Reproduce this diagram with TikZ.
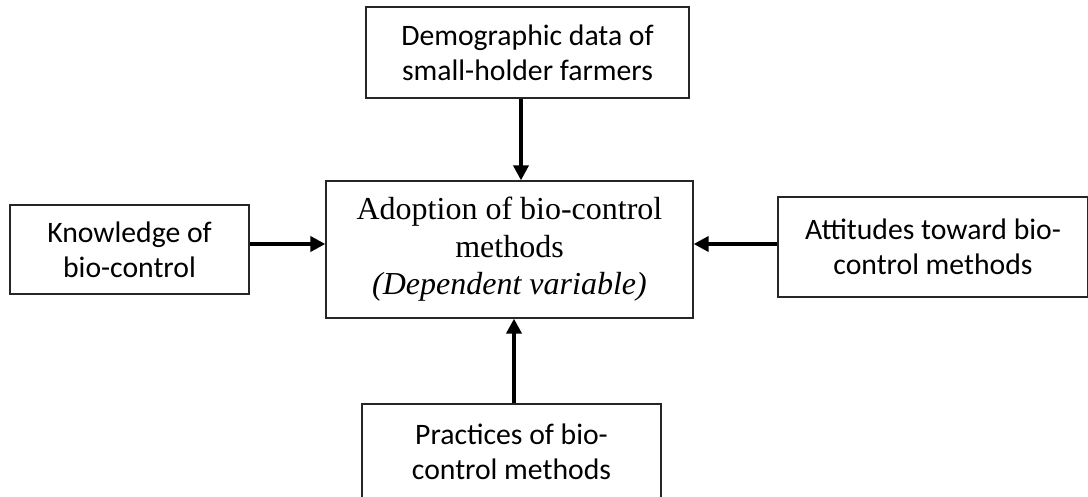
\documentclass[tikz,border=0pt]{standalone}
\usepackage{fontspec}
\setmainfont{Liberation Serif}
\newfontfamily\calib{Carlito}
\usetikzlibrary{arrows.meta}
\tikzset{
  box/.style={draw=black!85, line width=1.3pt, fill=white, inner sep=0pt, align=center},
  sbox/.style={box, font=\calib\fontsize{29.7}{35}\selectfont},
  arr/.style={line width=3.8pt, -{Triangle[length=15pt,width=15pt]}}
}
\begin{document}
\begin{tikzpicture}[x=1pt,y=-1pt]
\path[use as bounding box] (0,0) rectangle (1088,497);
\clip (0,0) rectangle (1088,497);
\node[sbox, minimum width=323pt, minimum height=91pt] (top) at (527.5,52.5) {Demographic data of\\small-holder farmers};
\node[box, minimum width=367pt, minimum height=137pt, font=\fontsize{32}{37.5}\selectfont] (ctr) at (509.5,249.5) {Adoption of bio-control\\methods\\\textit{(Dependent variable)}};
\node[sbox, minimum width=239pt, minimum height=89pt] (lft) at (129.5,249.5) {Knowledge of\\bio-control};
\node[sbox, minimum width=310pt, minimum height=100pt] (rgt) at (933,247) {Attitudes toward bio-\\control methods};
\node[sbox, minimum width=299pt, minimum height=96pt] (bot) at (511.5,452) {Practices of bio-\\control methods};
\coordinate (ta) at ([xshift=-6.5pt]top.south);
\draw[arr] (ta) -- (ta |- ctr.north);
\coordinate (ba) at ([xshift=2.5pt]bot.north);
\draw[arr] (ba) -- (ba |- ctr.south);
\coordinate (la) at ([yshift=5.5pt]lft.east);
\draw[arr] (la) -- (la -| ctr.west);
\coordinate (ra) at ([yshift=3pt]rgt.west);
\draw[arr] (ra) -- (ra -| ctr.east);
\end{tikzpicture}
\end{document}
